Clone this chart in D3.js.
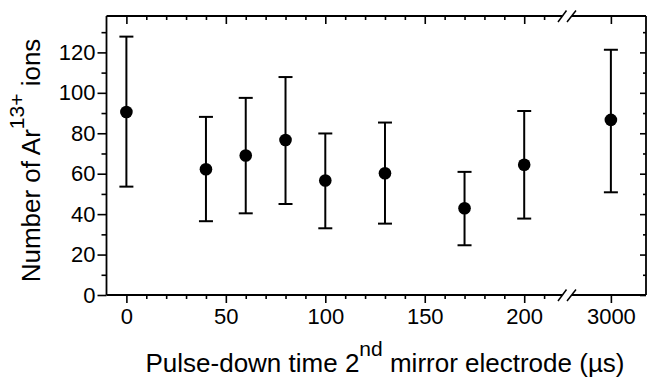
<!DOCTYPE html>
<html><head><meta charset="utf-8">
<script src="https://cdn.jsdelivr.net/npm/d3@7"></script>
<style>
html,body{margin:0;padding:0;background:#fff;}
svg{display:block;font-family:"Liberation Sans",Arial,sans-serif;}
</style></head>
<body>
<svg id="chart" width="647" height="379"></svg>
<script>
// ---- data ----
const xValues = [0, 40, 60, 80, 100, 130, 170, 200, 3000];
const yValues = [90.5, 62.2, 69.0, 76.7, 56.6, 60.2, 42.9, 64.4, 86.6];
const yLow    = [53.6, 36.5, 40.4, 45.0, 33.0, 35.3, 24.6, 37.8, 50.8];
const yHigh   = [127.8, 88.1, 97.5, 107.8, 79.9, 85.3, 60.9, 91.0, 121.3];
const xTickValues1 = [0, 50, 100, 150, 200];
const xTickValues2 = [3000];
const xMinor1 = [10, 20, 30, 40, 60, 70, 80, 90, 110, 120, 130, 140, 160, 170, 180, 190, 210];
const yTickValues = [0, 20, 40, 60, 80, 100, 120];
const yMinor = [10, 30, 50, 70, 90, 110, 130];
const xTitle = ["Pulse-down time 2", "nd", " mirror electrode (\u00b5s)"];
const yTitle = ["Number of Ar", "13+", " ions"];

// ---- layout ----
const L = 106.5, R = 646, T = 16, B = 295;
const brkA = 562, brkB = 572;
const svg = d3.select("#chart");

const x1 = d3.scaleLinear().domain([-10, 219]).range([L, brkA]);
const x2 = d3.scaleLinear().domain([2980.4, 3017.2]).range([brkB, 645]);
const xp = v => v < 1000 ? x1(v) : x2(v);
const y = d3.scaleLinear().domain([0, 138]).range([B, T]);

const fs = 22;
function styleAxis(g){
  g.select(".domain").remove();
  g.selectAll("line").attr("stroke","#000").attr("stroke-width",1.6);
  g.selectAll("text").attr("font-size",fs).attr("fill","#000").attr("font-family","'Liberation Sans',Arial,sans-serif");
}

// bottom axis (outward ticks)
svg.append("g").attr("transform",`translate(0,${B})`)
  .call(d3.axisBottom(x1).tickValues(xTickValues1).tickFormat(d3.format("d")).tickSize(8).tickPadding(5)).call(styleAxis);
svg.append("g").attr("transform",`translate(0,${B})`)
  .call(d3.axisBottom(x2).tickValues(xTickValues2).tickFormat(d3.format("d")).tickSize(8).tickPadding(5)).call(styleAxis);
svg.append("g").attr("transform",`translate(0,${B})`)
  .call(d3.axisBottom(x1).tickValues(xMinor1).tickFormat("").tickSize(4)).call(styleAxis);
// top axis (inward ticks)
svg.append("g").attr("transform",`translate(0,${T})`)
  .call(d3.axisBottom(x1).tickValues(xTickValues1).tickFormat("").tickSize(8)).call(styleAxis);
svg.append("g").attr("transform",`translate(0,${T})`)
  .call(d3.axisBottom(x2).tickValues(xTickValues2).tickFormat("").tickSize(8)).call(styleAxis);
svg.append("g").attr("transform",`translate(0,${T})`)
  .call(d3.axisBottom(x1).tickValues(xMinor1).tickFormat("").tickSize(4)).call(styleAxis);
// left axis (outward)
svg.append("g").attr("transform",`translate(${L},0)`)
  .call(d3.axisLeft(y).tickValues(yTickValues).tickSize(9).tickPadding(2)).call(styleAxis);
svg.append("g").attr("transform",`translate(${L},0)`)
  .call(d3.axisLeft(y).tickValues(yMinor).tickFormat("").tickSize(5)).call(styleAxis);
// right axis (inward)
svg.append("g").attr("transform",`translate(${R},0)`)
  .call(d3.axisLeft(y).tickValues(yTickValues).tickFormat("").tickSize(6)).call(styleAxis);
svg.append("g").attr("transform",`translate(${R},0)`)
  .call(d3.axisLeft(y).tickValues(yMinor).tickFormat("").tickSize(3)).call(styleAxis);

// frame with break
const frame = svg.append("g").attr("stroke","#000").attr("stroke-width",1.8).attr("fill","none");
[B, T].forEach(yy => {
  frame.append("line").attr("x1",L).attr("x2",brkA).attr("y1",yy).attr("y2",yy);
  frame.append("line").attr("x1",brkB).attr("x2",R).attr("y1",yy).attr("y2",yy);
  frame.append("line").attr("x1",brkA-4).attr("x2",brkA+4.5).attr("y1",yy+6).attr("y2",yy-5.5).attr("stroke-width",1.5);
  frame.append("line").attr("x1",brkB-5).attr("x2",brkB+4).attr("y1",yy+6).attr("y2",yy-5.5).attr("stroke-width",1.5);
});
frame.append("line").attr("x1",L).attr("x2",L).attr("y1",T).attr("y2",B);
frame.append("line").attr("x1",R).attr("x2",R).attr("y1",T).attr("y2",B);

// error bars
const eb = svg.append("g").attr("stroke","#000").attr("stroke-width",2);
xValues.forEach((xv,i) => {
  const cx = xp(xv);
  eb.append("line").attr("x1",cx).attr("x2",cx).attr("y1",y(yLow[i])).attr("y2",y(yHigh[i]));
  eb.append("line").attr("x1",cx-7).attr("x2",cx+7).attr("y1",y(yLow[i])).attr("y2",y(yLow[i]));
  eb.append("line").attr("x1",cx-7).attr("x2",cx+7).attr("y1",y(yHigh[i])).attr("y2",y(yHigh[i]));
});
svg.append("g").selectAll("circle").data(xValues).join("circle")
  .attr("cx",d=>xp(d)).attr("cy",(d,i)=>y(yValues[i])).attr("r",6.3).attr("fill","#000");

// titles
const tx = svg.append("text").attr("x",385).attr("y",372).attr("text-anchor","middle")
  .attr("font-size",26).attr("fill","#000");
tx.append("tspan").text(xTitle[0]);
tx.append("tspan").attr("dy",-16).attr("font-size",21).text(xTitle[1]);
tx.append("tspan").attr("dy",16).text(xTitle[2]);

const ty = svg.append("text").attr("transform","translate(40,160.5) rotate(-90)").attr("text-anchor","middle")
  .attr("font-size",26).attr("fill","#000");
ty.append("tspan").text(yTitle[0]);
ty.append("tspan").attr("dy",-16).attr("font-size",21).text(yTitle[1]);
ty.append("tspan").attr("dy",16).text(yTitle[2]);
</script>
</body></html>
